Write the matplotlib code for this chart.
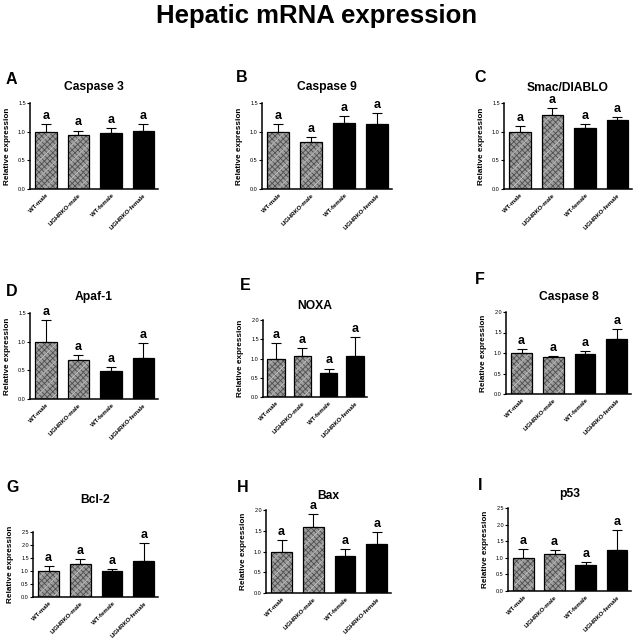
import matplotlib
matplotlib.use("Agg")
import matplotlib.pyplot as plt
import numpy as np

plt.rcParams['font.family'] = ['Liberation Sans', 'DejaVu Sans']
plt.rcParams['hatch.linewidth'] = 0.6

groups = ["WT-male", "LIGHRKO-male", "WT-female", "LIGHRKO-female"]
genes = ["Caspase 3", "Caspase 9", "Smac/DIABLO", "Apaf-1", "NOXA",
         "Caspase 8", "Bcl-2", "Bax", "p53"]
panel_letters = ["A", "B", "C", "D", "E", "F", "G", "H", "I"]

casp3_mean = [1.00, 0.95, 0.98, 1.02]
casp3_err = [0.13, 0.07, 0.08, 0.12]
casp9_mean = [1.00, 0.82, 1.15, 1.13]
casp9_err = [0.13, 0.08, 0.13, 0.20]
smac_mean = [1.00, 1.29, 1.06, 1.20]
smac_err = [0.10, 0.12, 0.07, 0.06]
apaf_mean = [1.00, 0.68, 0.48, 0.71]
apaf_err = [0.38, 0.09, 0.07, 0.27]
noxa_mean = [1.00, 1.07, 0.63, 1.06]
noxa_err = [0.40, 0.19, 0.11, 0.49]
casp8_mean = [1.00, 0.91, 0.98, 1.34]
casp8_err = [0.10, 0.02, 0.07, 0.25]
bcl2_mean = [1.00, 1.27, 0.99, 1.40]
bcl2_err = [0.19, 0.18, 0.09, 0.66]
bax_mean = [1.00, 1.58, 0.90, 1.18]
bax_err = [0.27, 0.33, 0.17, 0.28]
p53_mean = [1.00, 1.12, 0.77, 1.25]
p53_err = [0.26, 0.10, 0.09, 0.59]
sig_letters = ["a", "a", "a", "a"]

y_max = [1.5, 1.5, 1.5, 1.5, 2.0, 2.0, 2.5, 2.0, 2.5]
all_means = [casp3_mean, casp9_mean, smac_mean, apaf_mean, noxa_mean,
             casp8_mean, bcl2_mean, bax_mean, p53_mean]
all_errs = [casp3_err, casp9_err, smac_err, apaf_err, noxa_err,
            casp8_err, bcl2_err, bax_err, p53_err]

W, H = 634, 640
fig = plt.figure(figsize=(W / 100, H / 100), dpi=100)

# axes boxes in pixels: left, right, top, bottom
boxes = [
    (30, 158, 103, 189), (262, 392, 103, 189), (504, 632, 103, 189),
    (30, 158, 313, 399), (263, 367, 320, 397), (506, 631, 312, 394),
    (33, 158, 532, 597), (266, 391, 510, 593), (508, 631, 508, 591),
]
titles_y = [87, 87, 88, 297, 306, 297, 500, 496, 494]
letters_xy = [(6, 79), (236, 78), (474, 78), (6, 291), (240, 285),
              (475, 279), (6, 488), (237, 487), (478, 485)]

fig.text(0.5, 1 - 16 / H, "Hepatic mRNA expression", ha='center', va='center',
         fontsize=18.5, fontweight='bold')

for i in range(9):
    l, r, t, b = boxes[i]
    ax = fig.add_axes([l / W, 1 - b / H, (r - l) / W, (b - t) / H])
    x = np.arange(len(groups))
    means = all_means[i]
    errs = all_errs[i]
    # hatched male bars
    ax.bar(x[:2], means[:2], width=0.66, color='#9c9c9c', edgecolor='#4f4f4f',
           hatch='xxxxxx', linewidth=0, zorder=2)
    ax.bar(x[:2], means[:2], width=0.66, fill=False, edgecolor='#d4d4d4',
           hatch='//', linewidth=0, zorder=2.5)
    ax.bar(x[2:], means[2:], width=0.66, color='black', linewidth=0, zorder=2)
    ax.bar(x, means, width=0.66, fill=False, edgecolor='black', linewidth=0.9,
           zorder=3)
    ax.errorbar(x, means, yerr=[np.zeros(4), errs], fmt='none', ecolor='black',
                elinewidth=0.8, capsize=3.8, capthick=0.8, zorder=1.5)
    for xi, m, e, s in zip(x, means, errs, sig_letters):
        ax.annotate(s, (xi, m + e), xytext=(0, 1.5), textcoords='offset points',
                    ha='center', va='bottom', fontsize=9, fontweight='bold',
                    annotation_clip=False)
    ax.set_xlim(-0.49, 3.45)
    ax.set_ylim(0, y_max[i])
    ax.set_yticks(np.arange(0, y_max[i] + 0.01, 0.5))
    ax.set_yticklabels([f"{v:.1f}" for v in np.arange(0, y_max[i] + 0.01, 0.5)],
                       fontsize=4)
    ax.set_xticks(x)
    ax.set_xticklabels(groups, rotation=45, ha='right', rotation_mode='anchor',
                       fontsize=4.3, fontweight='bold')
    ax.tick_params(axis='y', length=2, width=0.8, pad=1)
    ax.tick_params(axis='x', length=0, pad=3)
    for sp in ['top', 'right']:
        ax.spines[sp].set_visible(False)
    for sp in ['left', 'bottom']:
        ax.spines[sp].set_linewidth(1.1)
    ax.set_ylabel("Relative expression", fontsize=5.9, fontweight='bold',
                  labelpad=5)
    fig.text((l + r) / 2 / W, 1 - titles_y[i] / H, genes[i], ha='center',
             va='center', fontsize=8.7, fontweight='bold')
    lx, ly = letters_xy[i]
    fig.text(lx / W, 1 - ly / H, panel_letters[i], ha='left', va='center',
             fontsize=11.5, fontweight='bold')

fig.savefig("out.png", dpi=100)
